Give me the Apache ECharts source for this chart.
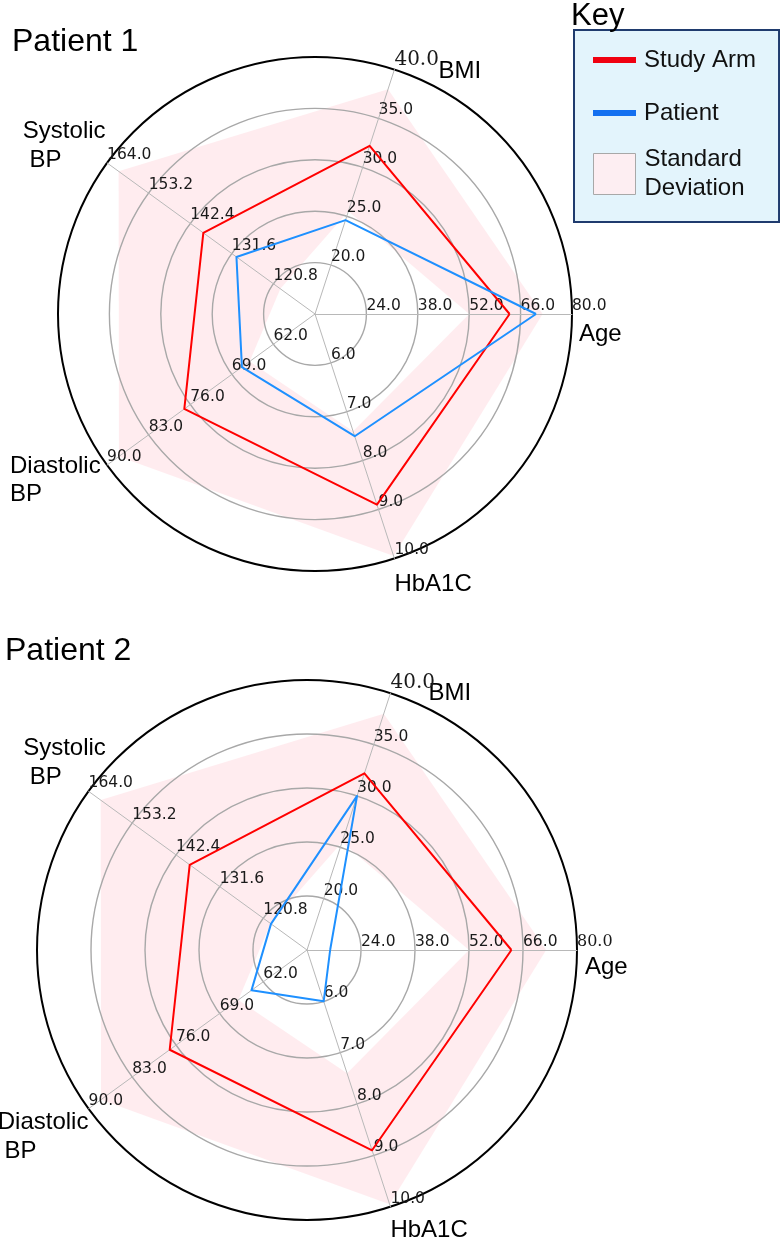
<!DOCTYPE html>
<html>
<head>
<meta charset="utf-8">
<script src="https://cdn.jsdelivr.net/npm/echarts@6/dist/echarts.min.js"></script>
<style>
  html, body { margin: 0; padding: 0; background: #fff; }
  #chart { width: 780px; height: 1240px; }
</style>
</head>
<body>
<div id="chart"></div>
<script>
// axes (counter-clockwise from the right)
const names1 = ['Age', 'BMI', 'Systolic\n BP', 'Diastolic\nBP', 'HbA1C'];
const names2 = ['Age', 'BMI', 'Systolic\n BP', 'Diastolic\n BP', 'HbA1C'];
const axisMin = [10, 15, 110, 55, 5];
const axisMax = [80, 40, 164, 90, 10];

// values
const studyArm = [63, 32.2, 139, 77, 8.9];
const patient1 = [70.2, 24.6, 130.4, 67.3, 7.5];
const patient2 = [16, 30, 118.9, 63.9, 6.0];
const sdUpper = [72, 38, 161, 88, 9.95];
const sdLower = [52, 25.5, 119, 66, 7.4];

const FONT = 'Liberation Sans';
const RED = '#ff0000';
const BLUE = '#1e90ff';
const PINK = 'rgba(255,192,203,0.3)';

// name placement per axis: [gap, verticalAlign, lineHeight, left padding]
const namePos1 = [
  [0, 'top', 41, 7],
  [0, 'top', 4, 44],
  [28.7, 'middle', 28.5, -61],
  [26.1, 'middle', 28.5, -76],
  [0, 'top', 51, 0]
];
const namePos2 = [
  [0, 'top', 35, 8],
  [0, 'middle', 28.5, 38],
  [48.7, 'middle', 28.5, -26],
  [48, 'middle', 28.5, -52],
  [0, 'top', 47, 0]
];

function indicators(names, pos) {
  return names.map((n, i) => ({
    name: n,
    min: axisMin[i],
    max: axisMax[i],
    nameMoveOverlap: false,
    nameGap: pos ? pos[i][0] : 0,
    nameTextStyle: pos ? {
      align: 'left',
      verticalAlign: pos[i][1],
      lineHeight: pos[i][2],
      padding: [0, 0, 0, pos[i][3]]
    } : undefined
  }));
}

const ringGray = ['#a8a8a8', '#a8a8a8', '#a8a8a8', '#a8a8a8', '#a8a8a8', 'rgba(0,0,0,0)'];
const ringBlack = ['rgba(0,0,0,0)', 'rgba(0,0,0,0)', 'rgba(0,0,0,0)', 'rgba(0,0,0,0)', 'rgba(0,0,0,0)', '#000'];

function baseRadar(center, radius) {
  return {
    center: center,
    radius: radius,
    startAngle: 0,
    shape: 'circle',
    splitNumber: 5,
    z: 0,
    indicator: indicators(names1, null),
    axisName: { show: false },
    axisLine: { show: false },
    splitArea: { show: false },
    splitLine: { lineStyle: { color: ringBlack, width: 2 } }
  };
}

function topRadar(center, radius, names, pos, fmt) {
  return {
    center: center,
    radius: radius,
    startAngle: 0,
    shape: 'circle',
    splitNumber: 5,
    z: 2,
    indicator: indicators(names, pos),
    axisName: {
      show: true,
      color: '#000',
      fontSize: 24,
      fontFamily: FONT,
      lineHeight: 28.5
    },
    axisLine: { lineStyle: { color: '#b8b8b8', width: 1 } },
    axisTick: { show: false },
    splitArea: { show: false },
    splitLine: { lineStyle: { color: ringGray, width: 1.4 } },
    axisLabel: {
      show: true,
      margin: 0,
      align: 'left',
      verticalAlign: 'bottom',
      fontSize: 15.5,
      fontFamily: 'DejaVu Sans',
      color: '#1a1a1a',
      formatter: fmt,
      rich: {
        s: { fontFamily: 'DejaVu Serif', fontSize: 20, color: '#1a1a1a' },
        t: { fontFamily: 'DejaVu Serif', fontSize: 16, color: '#1a1a1a' }
      }
    }
  };
}

const fmt1 = (v, i) => i === 0 ? '' : (v === 40 ? '{s|40.0}' : v.toFixed(1));
const fmt2 = (v, i) => i === 0 ? '' : (v === 40 ? '{s|40.0}' : v === 80 ? '{t|80.0}' : v.toFixed(1));

function sdSeries(radarIndex) {
  return {
    type: 'radar',
    name: 'Standard Deviation',
    radarIndex: radarIndex,
    z: 1,
    symbol: 'none',
    silent: true,
    itemStyle: { color: '#fdeef2' },
    lineStyle: { width: 0 },
    data: [
      { value: sdUpper, areaStyle: { color: PINK, opacity: 1 } },
      { value: sdLower, areaStyle: { color: '#ffffff', opacity: 1 } }
    ]
  };
}

function lineSeries(name, values, color, radarIndex, z) {
  return {
    type: 'radar',
    name: name,
    radarIndex: radarIndex,
    z: z,
    symbol: 'none',
    silent: true,
    itemStyle: { color: color },
    lineStyle: { color: color, width: 2 },
    data: [{ value: values }]
  };
}

const myChart = echarts.init(document.getElementById('chart'));

const option = {
  animation: false,
  title: [
    { text: 'Patient 1', left: 12, top: 26, padding: 0,
      textStyle: { fontSize: 32, fontWeight: 'normal', fontFamily: FONT, color: '#000' } },
    { text: 'Patient 2', left: 5, top: 635, padding: 0,
      textStyle: { fontSize: 32, fontWeight: 'normal', fontFamily: FONT, color: '#000' } },
    { text: 'Key', left: 571, top: 1, padding: 0,
      textStyle: { fontSize: 31, fontWeight: 'normal', fontFamily: FONT, color: '#000' } }
  ],
  legend: [
    {
      orient: 'vertical',
      left: 574,
      top: 30,
      padding: [18, 23, 97, 19],
      itemGap: 29,
      itemWidth: 43,
      itemHeight: 6,
      backgroundColor: '#e3f4fc',
      borderColor: '#1f3b6e',
      borderWidth: 2,
      selectedMode: false,
      textStyle: { fontSize: 24, fontFamily: FONT, color: '#111', padding: [0, 0, 0, 3] },
      data: [
        { name: 'Study Arm', icon: 'rect', itemStyle: { color: '#f00010', borderWidth: 0 } },
        { name: 'Patient', icon: 'rect', itemStyle: { color: '#1470f0', borderWidth: 0 } }
      ]
    },
    {
      orient: 'vertical',
      left: 593,
      top: 145.5,
      padding: 0,
      itemWidth: 42,
      itemHeight: 41,
      selectedMode: false,
      formatter: () => 'Standard\nDeviation',
      textStyle: { fontSize: 24, fontFamily: FONT, color: '#111', lineHeight: 28.5, padding: [0, 0, 0, 4] },
      data: [
        { name: 'Standard Deviation', icon: 'rect',
          itemStyle: { color: '#fdeef2', borderColor: '#a8a8a8', borderWidth: 1 } }
      ]
    }
  ],
  radar: [
    baseRadar([315, 314], 257),
    topRadar([315, 314], 257, names1, namePos1, fmt1),
    baseRadar([307, 950], 270),
    topRadar([307, 950], 270, names2, namePos2, fmt2)
  ],
  series: [
    sdSeries(0),
    lineSeries('Study Arm', studyArm, RED, 1, 3),
    lineSeries('Patient', patient1, BLUE, 1, 4),
    sdSeries(2),
    lineSeries('Study Arm', studyArm, RED, 3, 3),
    lineSeries('Patient', patient2, BLUE, 3, 4)
  ]
};

myChart.setOption(option);
</script>
</body>
</html>
